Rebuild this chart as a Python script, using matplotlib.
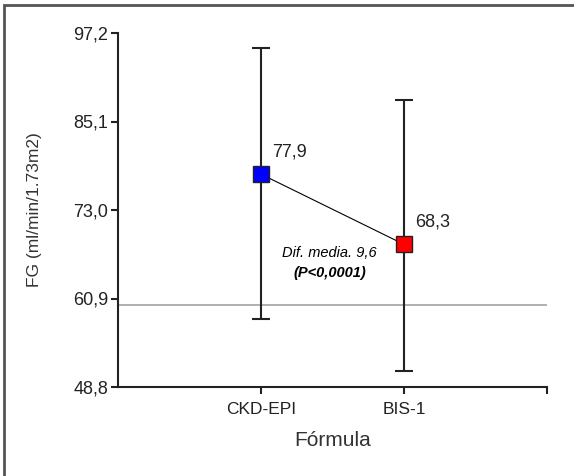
import matplotlib.pyplot as plt
from matplotlib.patches import Rectangle

plt.rcParams['font.family'] = ['Liberation Sans', 'DejaVu Sans']

# data
formulas = ['CKD-EPI', 'BIS-1']
means = [77.9, 68.3]
lows = [58.1, 51.0]
highs = [95.2, 88.0]
colors = ['#0000ff', '#ff0000']
mean_labels = ['77,9', '68,3']
yticks = [48.8, 60.9, 73.0, 85.1, 97.2]
ytick_labels = ['48,8', '60,9', '73,0', '85,1', '97,2']
ref_line = 60.0

W, H = 574, 476
fig = plt.figure(figsize=(W / 100, H / 100), dpi=100)
ax = fig.add_axes([118 / W, 1 - 387 / H, (547 - 118) / W, (387 - 33) / H])

# outer frame
fig.patches.append(Rectangle((4 / W, -0.1), 1.2, 1 - 5 / H + 0.1, transform=fig.transFigure,
                             fill=False, edgecolor='#555555', linewidth=2, zorder=0))

x = [1, 2]
ax.axhline(ref_line, color='#aaaaaa', lw=1.3, zorder=1)
for xi, m, lo, hi in zip(x, means, lows, highs):
    ax.errorbar([xi], [m], yerr=[[m - lo], [hi - m]], fmt='none', ecolor='#222222',
                elinewidth=1.5, capsize=6.5, capthick=1.5, zorder=2)
ax.plot(x, means, color='black', lw=0.8, zorder=3)
for xi, m, c, lab in zip(x, means, colors, mean_labels):
    ax.plot([xi], [m], marker='s', markersize=11.5, markerfacecolor=c,
            markeredgecolor='#222222', markeredgewidth=1, zorder=4)
    ax.text(xi + 0.08, m + 1.9, lab, fontsize=13, color='#222222', ha='left', va='bottom')

ax.text(1.48, 67.1, 'Dif. media. 9,6', fontsize=10.5, style='italic', ha='center', va='center')
ax.text(1.48, 64.4, '(P<0,0001)', fontsize=10.5, style='italic', weight='bold',
        ha='center', va='center')

ax.set_xlim(0, 3)
ax.set_ylim(48.8, 97.2)
ax.set_xticks([1, 2, 3])
ax.set_xticklabels(formulas + [''])
ax.set_yticks(yticks)
ax.set_yticklabels(ytick_labels)
ax.tick_params(axis='both', direction='out', length=5, width=1.5,
               labelcolor='#222222', color='#222222')
ax.tick_params(axis='x', pad=6, labelsize=12.5)
ax.tick_params(axis='y', pad=2, labelsize=13)
for s in ['top', 'right']:
    ax.spines[s].set_visible(False)
for s in ['left', 'bottom']:
    ax.spines[s].set_linewidth(1.5)
    ax.spines[s].set_color('#222222')

ax.set_xlabel('Fórmula', fontsize=15, color='#333333')
ax.set_ylabel('FG (ml/min/1.73m2)', fontsize=12.5, color='#333333')
ax.xaxis.set_label_coords(1.5 / 3, -0.125)
ax.yaxis.set_label_coords(-76 / 429, 0.5)

fig.savefig('out.png', dpi=100)
